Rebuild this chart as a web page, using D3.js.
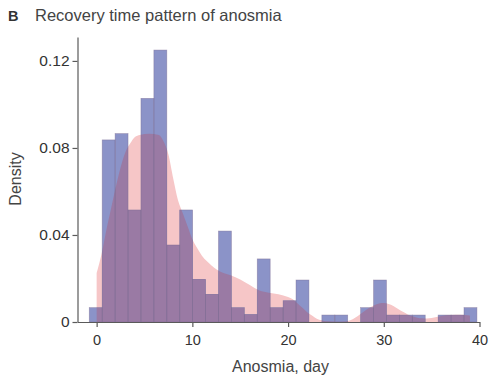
<!DOCTYPE html>
<html>
<head>
<meta charset="utf-8">
<script src="https://cdn.jsdelivr.net/npm/d3@7"></script>
<style>
	body { margin: 0; background: #fff; }
	svg { display: block; }
</style>
</head>
<body>
<div id="chart"></div>
<script>
// histogram: 30 bins, density per bin
const binStart = -0.77;
const binWidth = 1.35;
const barDensity = [
	0.0066, 0.0837, 0.0866, 0.0515, 0.1028, 0.125, 0.0354, 0.0515, 0.0196, 0.0127,
	0.0418, 0.0066, 0.0035, 0.029, 0.0066, 0.0098, 0.0193, 0, 0.0032, 0.0032,
	0, 0.0066, 0.0193, 0.0032, 0.0032, 0.0032, 0, 0.0032, 0.0032, 0.0066,
];

// kernel density estimate
const kdeDay = [
	0, 0.5, 1, 1.5, 2, 2.5, 3, 3.5, 4, 4.5, 5.5, 6.5, 7, 7.5, 8, 8.5, 9, 9.5, 10, 10.5,
	11, 11.5, 12, 13, 14, 15, 16, 17, 18, 19, 20, 20.5, 21, 21.5, 22, 22.5, 23, 23.5, 24, 25,
	26, 26.5, 27, 27.5, 28, 28.5, 29, 29.5, 30, 30.5, 31, 31.5, 32, 32.5, 33, 33.5, 34, 34.5, 35, 35.5,
	36, 37, 38, 39,
];
const kdeDensity = [
	0.0225, 0.031, 0.042, 0.052, 0.062, 0.071, 0.078, 0.082, 0.085, 0.086, 0.0865, 0.086, 0.083, 0.077, 0.066, 0.056, 0.05, 0.044, 0.038, 0.034,
	0.0305, 0.028, 0.026, 0.023, 0.0215, 0.0195, 0.017, 0.0145, 0.0135, 0.0128, 0.0115, 0.0105, 0.0085, 0.0065, 0.0045, 0.003, 0.0015, 0.0008, 0.0003, 0.0001,
	0.0002, 0.0008, 0.002, 0.0035, 0.005, 0.0065, 0.0077, 0.0085, 0.0087, 0.0083, 0.0074, 0.006, 0.0047, 0.0035, 0.0027, 0.002, 0.0017, 0.0016, 0.0018, 0.0023,
	0.0028, 0.0032, 0.0033, 0.003,
];

const xTicks = [0, 10, 20, 30, 40];
const yTicks = [0, 0.04, 0.08, 0.12];

const titleLetter = "B";
const titleText = "Recovery time pattern of anosmia";
const xLabel = "Anosmia, day";
const yLabel = "Density";

const width = 489;
const height = 375;
const font = "'Liberation Sans', Arial, sans-serif";

const svg = d3
	.select("#chart")
	.append("svg")
	.attr("width", width)
	.attr("height", height);

const x = d3.scaleLinear().domain([-2, 40]).range([77.5, 479.5]);
const y = d3.scaleLinear().domain([0, 0.131]).range([322, 37]);

const bins = barDensity.map((d, i) => ({
	x0: binStart + i * binWidth,
	x1: binStart + (i + 1) * binWidth,
	density: d,
}));

const kde = kdeDay.map((d, i) => ({ day: d, density: kdeDensity[i] }));

const area = d3
	.area()
	.x((d) => x(d.day))
	.y0(y(0))
	.y1((d) => y(d.density))
	.curve(d3.curveMonotoneX);

// clip path made of the bars, for the overlap colour
svg.append("clipPath")
	.attr("id", "bar-clip")
	.selectAll("rect")
	.data(bins)
	.enter()
	.append("rect")
	.attr("x", (d) => x(d.x0))
	.attr("y", (d) => y(d.density))
	.attr("width", (d) => x(d.x1) - x(d.x0))
	.attr("height", (d) => y(0) - y(d.density));

// pink density area
svg.append("path")
	.datum(kde)
	.attr("d", area)
	.style("fill", "#f6c6c7");

// blue bars
svg.append("g")
	.selectAll("rect")
	.data(bins)
	.enter()
	.append("rect")
	.attr("x", (d) => x(d.x0))
	.attr("y", (d) => y(d.density))
	.attr("width", (d) => x(d.x1) - x(d.x0))
	.attr("height", (d) => y(0) - y(d.density))
	.style("fill", "#8b93c8");

// overlap
svg.append("path")
	.datum(kde)
	.attr("d", area)
	.attr("clip-path", "url(#bar-clip)")
	.style("fill", "#9a7aa4");

// bar outlines
svg.append("g")
	.selectAll("rect")
	.data(bins.filter((d) => d.density > 0))
	.enter()
	.append("rect")
	.attr("x", (d) => x(d.x0))
	.attr("y", (d) => y(d.density))
	.attr("width", (d) => x(d.x1) - x(d.x0))
	.attr("height", (d) => y(0) - y(d.density))
	.style("fill", "none")
	.style("stroke", "#7a6c92")
	.style("stroke-opacity", 0.55)
	.style("stroke-width", 0.7);

// axes
const xAxis = svg
	.append("g")
	.attr("transform", `translate(0, ${y(0)})`)
	.call(d3.axisBottom(x).tickValues(xTicks).tickSize(5).tickSizeOuter(0).tickPadding(8));

const yAxis = svg
	.append("g")
	.attr("transform", `translate(${x(-2)}, 0)`)
	.call(
		d3
			.axisLeft(y)
			.tickValues(yTicks)
			.tickSize(5)
			.tickSizeOuter(0)
			.tickPadding(3)
			.tickFormat((d) => (d === 0 ? "0" : d.toFixed(2)))
	);

[xAxis, yAxis].forEach((g) => {
	g.selectAll("path, line").style("stroke", "#5a5a5a").style("stroke-width", 1.2);
	g.selectAll("text")
		.style("font-family", font)
		.style("fill", "#333");
});
xAxis.selectAll("text").style("font-size", "14.5px");
yAxis.selectAll("text").style("font-size", "15.5px");

// titles
svg.append("text")
	.attr("x", 8)
	.attr("y", 21)
	.style("font-family", font)
	.style("font-size", "14.5px")
	.style("font-weight", "bold")
	.style("fill", "#333")
	.text(titleLetter);

svg.append("text")
	.attr("x", 35)
	.attr("y", 21)
	.style("font-family", font)
	.style("font-size", "16.5px")
	.style("fill", "#444")
	.text(titleText);

svg.append("text")
	.attr("x", 280.5)
	.attr("y", 371.5)
	.attr("text-anchor", "middle")
	.style("font-family", font)
	.style("font-size", "16px")
	.style("fill", "#444")
	.text(xLabel);

svg.append("text")
	.attr("transform", "translate(21, 179) rotate(-90)")
	.attr("text-anchor", "middle")
	.style("font-family", font)
	.style("font-size", "16px")
	.style("fill", "#444")
	.text(yLabel);
</script>
</body>
</html>
